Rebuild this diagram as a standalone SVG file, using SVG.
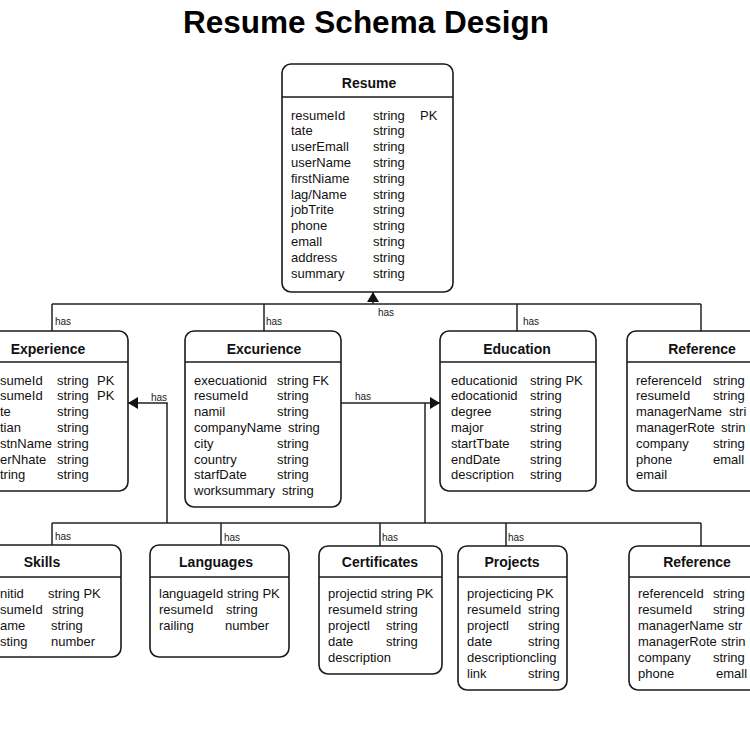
<svg xmlns="http://www.w3.org/2000/svg" width="750" height="750" viewBox="0 0 750 750">
<defs>
<style>
.box{fill:#fff;stroke:#1a1a1a;stroke-width:1.6}
.sep{stroke:#1a1a1a;stroke-width:1.4}
.ttl{font-family:"Liberation Sans",Arial,sans-serif;font-weight:bold;font-size:14px;fill:#111;text-anchor:middle}
.row{font-family:"Liberation Sans",Arial,sans-serif;font-size:13px;fill:#111}
.has{font-family:"Liberation Sans",Arial,sans-serif;font-size:10px;fill:#222}
.conn{fill:none;stroke:#222;stroke-width:1.5}
.main{font-family:"Liberation Sans",Arial,sans-serif;font-weight:bold;font-size:31.5px;fill:#000;text-anchor:middle}
</style>
<marker id="arr" viewBox="0 0 10 12" refX="10" refY="6" markerWidth="10" markerHeight="12" markerUnits="userSpaceOnUse" orient="auto">
<path d="M0,0 L10,6 L0,12 z" fill="#111"/>
</marker>
</defs>
<rect width="750" height="750" fill="#fff"/>
<text class="main" x="366" y="33">Resume Schema Design</text>

<g id="connectors">
<path class="conn" d="M373,304 V292" marker-end="url(#arr)"/>
<path class="conn" d="M52,304 H701"/>
<path class="conn" d="M52,304 V331"/>
<path class="conn" d="M264,304 V331"/>
<path class="conn" d="M517,304 V331"/>
<path class="conn" d="M701,304 V331"/>
<path class="conn" d="M341,403 H440" marker-end="url(#arr)"/>
<path class="conn" d="M425,403 V523"/>
<path class="conn" d="M167,523 V403 H128" marker-end="url(#arr)"/>
<path class="conn" d="M52,523 H701"/>
<path class="conn" d="M52,523 V545"/>
<path class="conn" d="M221,523 V545"/>
<path class="conn" d="M380,523 V546"/>
<path class="conn" d="M506,523 V546"/>
<path class="conn" d="M701,523 V546"/>
<text class="has" x="55" y="325">has</text>
<text class="has" x="266" y="325">has</text>
<text class="has" x="378" y="316">has</text>
<text class="has" x="523" y="325">has</text>
<text class="has" x="355" y="400">has</text>
<text class="has" x="151" y="401">has</text>
<text class="has" x="55" y="540">has</text>
<text class="has" x="224" y="541">has</text>
<text class="has" x="382" y="541">has</text>
<text class="has" x="508" y="541">has</text>
</g>

<g id="resume">
<rect class="box" x="282" y="64" width="171" height="228" rx="9"/>
<line class="sep" x1="282" y1="97" x2="453" y2="97"/>
<text class="ttl" x="369" y="88">Resume</text>
<text class="row" x="291" y="119.5">resumeId</text><text class="row" x="373" y="119.5">string</text><text class="row" x="420" y="119.5">PK</text>
<text class="row" x="291" y="135.3">tate</text><text class="row" x="373" y="135.3">string</text>
<text class="row" x="291" y="151.1">userEmall</text><text class="row" x="373" y="151.1">string</text>
<text class="row" x="291" y="166.9">userName</text><text class="row" x="373" y="166.9">string</text>
<text class="row" x="291" y="182.7">firstNiame</text><text class="row" x="373" y="182.7">string</text>
<text class="row" x="291" y="198.5">lag/Name</text><text class="row" x="373" y="198.5">string</text>
<text class="row" x="291" y="214.3">jobTrite</text><text class="row" x="373" y="214.3">string</text>
<text class="row" x="291" y="230.1">phone</text><text class="row" x="373" y="230.1">string</text>
<text class="row" x="291" y="245.9">emall</text><text class="row" x="373" y="245.9">string</text>
<text class="row" x="291" y="261.7">address</text><text class="row" x="373" y="261.7">string</text>
<text class="row" x="291" y="277.5">summary</text><text class="row" x="373" y="277.5">string</text>
</g>

<g id="experience">
<rect class="box" x="-28" y="331" width="156" height="160" rx="9"/>
<line class="sep" x1="-28" y1="362" x2="128" y2="362"/>
<text class="ttl" x="48" y="354">Experience</text>
<text class="row" x="0" y="384.5">sumeId</text><text class="row" x="57" y="384.5">string</text><text class="row" x="97" y="384.5">PK</text>
<text class="row" x="0" y="400.3">sumeId</text><text class="row" x="57" y="400.3">string</text><text class="row" x="97" y="400.3">PK</text>
<text class="row" x="0" y="416.1">te</text><text class="row" x="57" y="416.1">string</text>
<text class="row" x="0" y="431.9">tian</text><text class="row" x="57" y="431.9">string</text>
<text class="row" x="0" y="447.7">stnName</text><text class="row" x="57" y="447.7">string</text>
<text class="row" x="0" y="463.5">erNhate</text><text class="row" x="57" y="463.5">string</text>
<text class="row" x="0" y="479.3">tring</text><text class="row" x="57" y="479.3">string</text>
</g>

<g id="excurience">
<rect class="box" x="185" y="331" width="156" height="176" rx="9"/>
<line class="sep" x1="185" y1="362" x2="341" y2="362"/>
<text class="ttl" x="264" y="354">Excurience</text>
<text class="row" x="194" y="384.5">execuationid</text><text class="row" x="277" y="384.5">string FK</text>
<text class="row" x="194" y="400.3">resumeId</text><text class="row" x="277" y="400.3">string</text>
<text class="row" x="194" y="416.1">namil</text><text class="row" x="277" y="416.1">string</text>
<text class="row" x="194" y="431.9">companyName</text><text class="row" x="288" y="431.9">string</text>
<text class="row" x="194" y="447.7">city</text><text class="row" x="277" y="447.7">string</text>
<text class="row" x="194" y="463.5">country</text><text class="row" x="277" y="463.5">string</text>
<text class="row" x="194" y="479.3">starfDate</text><text class="row" x="277" y="479.3">string</text>
<text class="row" x="194" y="495.1">worksummary</text><text class="row" x="282" y="495.1">string</text>
</g>

<g id="education">
<rect class="box" x="440" y="331" width="156" height="160" rx="9"/>
<line class="sep" x1="440" y1="362" x2="596" y2="362"/>
<text class="ttl" x="517" y="354">Education</text>
<text class="row" x="451" y="384.5">educationid</text><text class="row" x="530" y="384.5">string PK</text>
<text class="row" x="451" y="400.3">edocationid</text><text class="row" x="530" y="400.3">string</text>
<text class="row" x="451" y="416.1">degree</text><text class="row" x="530" y="416.1">string</text>
<text class="row" x="451" y="431.9">major</text><text class="row" x="530" y="431.9">string</text>
<text class="row" x="451" y="447.7">startTbate</text><text class="row" x="530" y="447.7">string</text>
<text class="row" x="451" y="463.5">endDate</text><text class="row" x="530" y="463.5">string</text>
<text class="row" x="451" y="479.3">description</text><text class="row" x="530" y="479.3">string</text>
</g>

<g id="reference-top">
<rect class="box" x="627" y="331" width="150" height="160" rx="9"/>
<line class="sep" x1="627" y1="362" x2="777" y2="362"/>
<text class="ttl" x="702" y="354">Reference</text>
<text class="row" x="636" y="384.5">referenceId</text><text class="row" x="713" y="384.5">string</text>
<text class="row" x="636" y="400.3">resumeId</text><text class="row" x="713" y="400.3">string</text>
<text class="row" x="636" y="416.1">managerName</text><text class="row" x="729" y="416.1">stri</text>
<text class="row" x="636" y="431.9">managerRote</text><text class="row" x="721" y="431.9">strin</text>
<text class="row" x="636" y="447.7">company</text><text class="row" x="713" y="447.7">string</text>
<text class="row" x="636" y="463.5">phone</text><text class="row" x="713" y="463.5">emall</text>
<text class="row" x="636" y="479.3">email</text>
</g>

<g id="skills">
<rect class="box" x="-30" y="545" width="151" height="112" rx="9"/>
<line class="sep" x1="-30" y1="577" x2="121" y2="577"/>
<text class="ttl" x="42" y="567">Skills</text>
<text class="row" x="0" y="598">nitid</text><text class="row" x="48" y="598">string PK</text>
<text class="row" x="0" y="614">sumeId</text><text class="row" x="52" y="614">string</text>
<text class="row" x="0" y="630">ame</text><text class="row" x="51" y="630">string</text>
<text class="row" x="0" y="646">sting</text><text class="row" x="51" y="646">number</text>
</g>

<g id="languages">
<rect class="box" x="150" y="545" width="139" height="112" rx="9"/>
<line class="sep" x1="150" y1="577" x2="289" y2="577"/>
<text class="ttl" x="216" y="567">Languages</text>
<text class="row" x="159" y="598">languageId</text><text class="row" x="227" y="598">string PK</text>
<text class="row" x="159" y="614">resumeId</text><text class="row" x="226" y="614">string</text>
<text class="row" x="159" y="630">railing</text><text class="row" x="225" y="630">number</text>
</g>

<g id="certificates">
<rect class="box" x="319" y="546" width="123" height="128" rx="9"/>
<line class="sep" x1="319" y1="577" x2="442" y2="577"/>
<text class="ttl" x="380" y="567">Certificates</text>
<text class="row" x="328" y="598">projectid string PK</text>
<text class="row" x="328" y="614">resumeId</text><text class="row" x="386" y="614">string</text>
<text class="row" x="328" y="630">projectl</text><text class="row" x="386" y="630">string</text>
<text class="row" x="328" y="646">date</text><text class="row" x="386" y="646">string</text>
<text class="row" x="328" y="662">description</text>
</g>

<g id="projects">
<rect class="box" x="458" y="546" width="109" height="144" rx="9"/>
<line class="sep" x1="458" y1="577" x2="567" y2="577"/>
<text class="ttl" x="512" y="567">Projects</text>
<text class="row" x="467" y="598">projecticing PK</text>
<text class="row" x="467" y="614">resumeId</text><text class="row" x="528" y="614">string</text>
<text class="row" x="467" y="630">projectl</text><text class="row" x="528" y="630">string</text>
<text class="row" x="467" y="646">date</text><text class="row" x="528" y="646">string</text>
<text class="row" x="467" y="662">descriptioncling</text>
<text class="row" x="467" y="678">link</text><text class="row" x="528" y="678">string</text>
</g>

<g id="reference-bottom">
<rect class="box" x="629" y="546" width="150" height="144" rx="9"/>
<line class="sep" x1="629" y1="577" x2="779" y2="577"/>
<text class="ttl" x="697" y="567">Reference</text>
<text class="row" x="638" y="598">referenceId</text><text class="row" x="713" y="598">string</text>
<text class="row" x="638" y="614">resumeId</text><text class="row" x="713" y="614">string</text>
<text class="row" x="638" y="630">managerName</text><text class="row" x="728" y="630">str</text>
<text class="row" x="638" y="646">managerRote</text><text class="row" x="721" y="646">strin</text>
<text class="row" x="638" y="662">company</text><text class="row" x="713" y="662">string</text>
<text class="row" x="638" y="678">phone</text><text class="row" x="716" y="678">emall</text>
</g>
</svg>
